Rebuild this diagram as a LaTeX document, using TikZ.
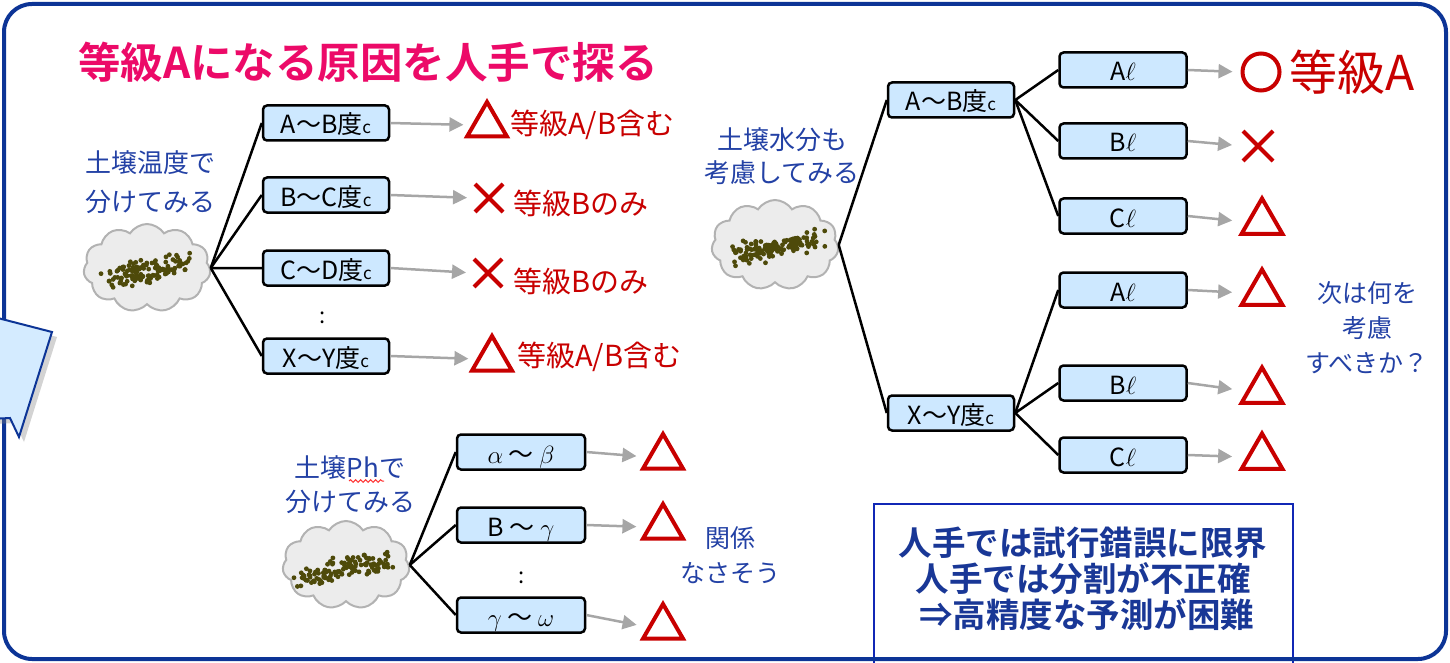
\documentclass[tikz,border=0pt]{standalone}
\usepackage{fontspec}
\setmainfont{Noto Sans CJK JP}[BoldFont=* Bold]
\usetikzlibrary{arrows.meta,shapes.geometric,shapes.symbols,shapes.misc,shadows,decorations.pathmorphing}

\definecolor{framecol}{RGB}{12,52,150}
\definecolor{titlecol}{RGB}{236,10,104}
\definecolor{markred}{RGB}{200,0,0}
\definecolor{notecol}{RGB}{35,65,165}
\definecolor{boxfill}{RGB}{205,232,255}
\definecolor{soil}{RGB}{78,74,10}
\definecolor{sumcol}{RGB}{25,55,150}

\tikzset{
  rangebox/.style={draw, line width=2.5pt, rounded corners=4pt, fill=boxfill,
    minimum width=126, minimum height=35, inner sep=0pt, text height=22pt, text depth=0pt,
    font=\fontsize{25}{25}\selectfont},
  soilcloud/.style={cloud, cloud puffs=11, cloud puff arc=115, cloud ignores aspect,
    draw=gray!60, line width=2pt, fill=gray!15, minimum width=127, minimum height=88},
  note/.style={align=center, text=notecol, font=\fontsize{26}{34}\selectfont},
  trimark/.style={regular polygon, regular polygon sides=3, draw=markred,
    line width=4pt, minimum size=46, inner sep=0pt},
  crossmark/.style={cross out, draw=markred, line width=4pt, minimum size=24, inner sep=0pt},
  circmark/.style={circle, draw=markred, line width=4pt, minimum size=37, inner sep=0pt},
  restext/.style={anchor=west, text=markred, font=\fontsize{29}{29}\selectfont, inner sep=0pt},
  branch/.style={line width=2.5pt},
  res/.style={draw=gray!70, line width=2.5pt, -{Triangle[length=14pt,width=14pt]}, shorten >=#1},
  res/.default=8pt,
}

% scattered soil samples inside a cloud
\newcommand\soildots[1]{%
  \foreach \k in {1,...,125}{%
    \pgfmathsetmacro\px{36*rand+17*rand}%
    \pgfmathsetmacro\py{-0.2*\px+9*rand+7*rand*abs(rand)+3}%
    \fill[soil] ([shift={(\px,\py)}]#1) circle (2.4pt);
  }}
\newcommand\degc{{\fontsize{17}{17}\selectfont c}}

\begin{document}
\begin{tikzpicture}[x=1pt,y=-1pt]
  \useasboundingbox (0,0) rectangle (1450,663);
  \pgfmathsetseed{11}

  % summary box and outer frame
  \node[draw=sumcol!70!blue, line width=1.5pt, fill=white, anchor=north west,
    minimum width=419, minimum height=175, inner sep=0pt] (sumbox) at (873,503) {};
  \draw[framecol, line width=4pt, rounded corners=28pt] (4,4) rectangle (1446,659);
  \draw[framecol, line width=2pt, fill=boxfill!85,
    drop shadow={shadow xshift=5pt, shadow yshift=-5pt, opacity=0.35}]
    (-10,316) -- (52,332) -- (19,437) -- (10,418) -- (-10,419) -- cycle;

  \node[anchor=west, inner sep=0pt, text=titlecol, font=\bfseries\fontsize{42.5}{42}\selectfont]
    (title) at (78,62) {等級Aになる原因を人手で探る};

  % soil temperature
  \node[note, font=\fontsize{26}{39}\selectfont] (l1) at (150,182) {土壌温度で\\分けてみる};
  \node[soilcloud] (c1) at (147,268) {};
  \soildots{c1.center}
  \node[rangebox] (b11) at (326,123) {A～B度\degc};
  \node[rangebox] (b12) at (326,195) {B～C度\degc};
  \node[rangebox] (b13) at (326,268) {C～D度\degc};
  \node[rangebox] (b14) at (326,356) {X～Y度\degc};
  \node[font=\fontsize{22}{22}\selectfont] (v1) at (323,318) {:};
  \draw[branch] (c1.east) -- (b11.west);
  \draw[branch] (c1.east) -- (b12.west);
  \draw[branch] (c1.east) -- (b13.west);
  \draw[branch] (c1.east) -- (b14.west);

  \node[trimark] (m11) at (487,125) {};
  \node[crossmark] (m12) at (489,198) {};
  \node[crossmark] (m13) at (488,273) {};
  \node[trimark] (m14) at (492,359) {};
  \draw[res] (b11.east) -- (m11.west);
  \draw[res] (b12.east) -- (m12.west);
  \draw[res] (b13.east) -- (m13.west);
  \draw[res] (b14.east) -- (m14.west);
  \node[restext] (t11) at (510,125) {等級A/B含む};
  \node[restext] (t12) at (513,203) {等級Bのみ};
  \node[restext] (t13) at (513,281) {等級Bのみ};
  \node[restext] (t14) at (517,357) {等級A/B含む};

  % soil moisture as well
  \node[note, font=\fontsize{26}{33}\selectfont] (l2) at (782,156) {土壌水分も\\考慮してみる};
  \node[soilcloud, minimum height=90] (c2) at (775,245) {};
  \soildots{c2.center}
  \node[rangebox] (b21) at (951,100) {A～B度\degc};
  \node[rangebox] (b22) at (951,413) {X～Y度\degc};
  \draw[branch] (c2.east) -- (b21.west);
  \draw[branch] (c2.east) -- (b22.west);

  \node[rangebox, minimum width=127] (b31) at (1123,70) {A$\ell$};
  \node[rangebox, minimum width=127] (b32) at (1123,141) {B$\ell$};
  \node[rangebox, minimum width=127] (b33) at (1123,216) {C$\ell$};
  \node[rangebox, minimum width=127] (b34) at (1123,290) {A$\ell$};
  \node[rangebox, minimum width=127] (b35) at (1123,383) {B$\ell$};
  \node[rangebox, minimum width=127] (b36) at (1123,455) {C$\ell$};
  \draw[branch] (b21.east) -- (b31.west);
  \draw[branch] (b21.east) -- (b32.west);
  \draw[branch] (b21.east) -- (b33.west);
  \draw[branch] (b22.east) -- (b34.west);
  \draw[branch] (b22.east) -- (b35.west);
  \draw[branch] (b22.east) -- (b36.west);

  \node[circmark] (r1) at (1261,72) {};
  \node[crossmark, minimum size=26] (r2) at (1258,146) {};
  \node[trimark, minimum size=47] (r3) at (1262,222) {};
  \node[trimark, minimum size=47] (r4) at (1262,293) {};
  \node[trimark, minimum size=47] (r5) at (1262,391) {};
  \node[trimark, minimum size=47] (r6) at (1262,457) {};
  \draw[res] (b31.east) -- (r1.west);
  \draw[res=11pt] (b32.east) -- (r2.west);
  \draw[res=14pt] (b33.east) -- (r3.west);
  \draw[res=14pt] (b34.east) -- (r4.west);
  \draw[res=14pt] (b35.east) -- (r5.west);
  \draw[res=14pt] (b36.east) -- (r6.west);
  \node[restext, font=\fontsize{48}{48}\selectfont] (t31) at (1289,72) {等級A};
  \node[note, font=\fontsize{25}{35}\selectfont] (n2) at (1367,328) {次は何を\\考慮\\すべきか？};

  % soil pH
  \node[note] (l3) at (350,485) {土壌Phで\\分けてみる};
  \draw[red!80, line width=1pt, decorate,
    decoration={snake, amplitude=1.3pt, segment length=5pt}] (349,481) -- (384,481);
  \node[soilcloud] (c3) at (346,565) {};
  \soildots{c3.center}
  \node[rangebox, minimum width=128] (b41) at (521,452) {$\alpha$ ～ $\beta$};
  \node[rangebox, minimum width=128] (b42) at (521,525) {B ～ $\gamma$};
  \node[rangebox, minimum width=128] (b43) at (521,615) {$\gamma$ ～ $\omega$};
  \node[font=\fontsize{22}{22}\selectfont] (v3) at (522,578) {:};
  \draw[branch] (c3.east) -- (b41.west);
  \draw[branch] (c3.east) -- (b42.west);
  \draw[branch] (c3.east) -- (b43.west);

  \node[trimark] (q1) at (663,457) {};
  \node[trimark] (q2) at (663,527) {};
  \node[trimark] (q3) at (663,627) {};
  \draw[res=11pt] (b41.east) -- (q1.west);
  \draw[res=11pt] (b42.east) -- (q2.west);
  \draw[res=11pt] (b43.east) -- (q3.west);
  \node[note, font=\fontsize{25}{35}\selectfont] (n3) at (730,555) {関係\\なさそう};

  \node[align=center, text=sumcol, font=\bfseries\fontsize{33.5}{36}\selectfont]
    (sumtxt) at (1083,579) {人手では試行錯誤に限界\\人手では分割が不正確\\\ ⇒高精度な予測が困難};
\end{tikzpicture}
\end{document}
